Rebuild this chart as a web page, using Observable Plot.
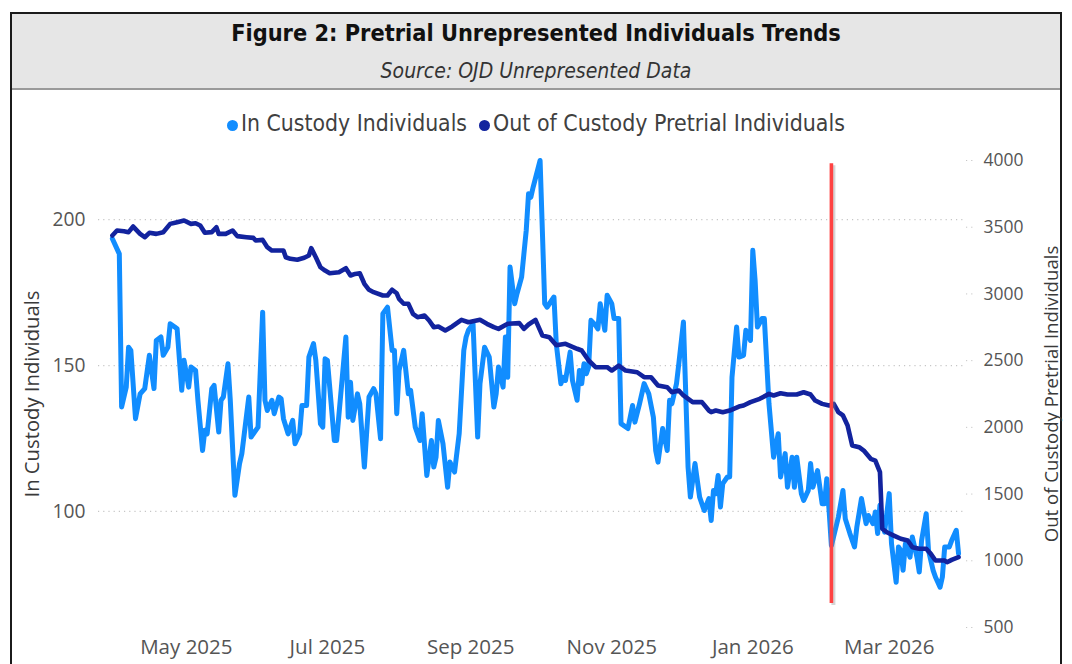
<!DOCTYPE html>
<html>
<head>
<meta charset="utf-8">
<script src="https://cdn.jsdelivr.net/npm/d3@7"></script>
<script src="https://cdn.jsdelivr.net/npm/@observablehq/plot@0.6"></script>
<style>
html, body { margin: 0; padding: 0; background: #fff; width: 1072px; height: 664px; overflow: hidden; }
#frame { position: absolute; left: 10px; top: 12px; width: 1052px; height: 720px; box-sizing: border-box; border: 2px solid #1b1b1b; }
#header { position: absolute; left: 12px; top: 14px; width: 1048px; height: 74px; background: #e6e6e6; border-bottom: 2px solid #9a9a9a; }
.t { position: absolute; left: 0; width: 1072px; text-align: center; white-space: nowrap; }
.cond { font-family: "DejaVu Sans Condensed", "DejaVu Sans", sans-serif; font-stretch: condensed; }
#title { top: 19px; line-height: 28px; font-weight: bold; color: #111; }
#subtitle { top: 59px; line-height: 24px; font-style: italic; color: #333; }
#legend { top: 111px; line-height: 24px; color: #404040; }
.dot { display: inline-block; width: 11px; height: 11px; border-radius: 50%; vertical-align: middle; position: relative; top: -1px; }
#chart { position: absolute; left: 0; top: 140px; }
</style>
</head>
<body>
<div id="frame"></div>
<div id="header"></div>
<div id="title" class="t cond"><span id="titleText">Figure 2: Pretrial Unrepresented Individuals Trends</span></div>
<div id="subtitle" class="t cond"><span id="subText">Source: OJD Unrepresented Data</span></div>
<div id="legend" class="t cond"><span class="dot" style="background:#118DFF"></span><span id="leg1" style="margin-left:3px">In Custody Individuals</span><span class="dot" style="background:#12239E;margin-left:12px"></span><span id="leg2" style="margin-left:3px">Out of Custody Pretrial Individuals</span></div>
<div id="chart"></div>
<script>
// ---------- data ----------
const inDates = [
"2025-03-30","2025-04-02","2025-04-03","2025-04-05","2025-04-06","2025-04-07","2025-04-09","2025-04-11","2025-04-13","2025-04-15",
"2025-04-17","2025-04-18","2025-04-20","2025-04-21","2025-04-23","2025-04-24","2025-04-26","2025-04-27","2025-04-29","2025-04-30",
"2025-05-02","2025-05-03","2025-05-05","2025-05-06","2025-05-08","2025-05-09","2025-05-10","2025-05-12","2025-05-13","2025-05-15",
"2025-05-16","2025-05-17","2025-05-19","2025-05-20","2025-05-22","2025-05-24","2025-05-25","2025-05-28","2025-05-29","2025-06-01",
"2025-06-03","2025-06-04","2025-06-05","2025-06-07","2025-06-08","2025-06-10","2025-06-11","2025-06-12","2025-06-14","2025-06-16",
"2025-06-17","2025-06-19","2025-06-20","2025-06-22","2025-06-23","2025-06-25","2025-06-26","2025-06-28","2025-06-29","2025-06-30",
"2025-07-01","2025-07-04","2025-07-05","2025-07-09","2025-07-10","2025-07-11","2025-07-12","2025-07-14","2025-07-15","2025-07-17",
"2025-07-19","2025-07-21","2025-07-22","2025-07-24","2025-07-25","2025-07-27","2025-07-29","2025-07-30","2025-07-31","2025-08-01",
"2025-08-03","2025-08-05","2025-08-06","2025-08-08","2025-08-10","2025-08-11","2025-08-13","2025-08-15","2025-08-16","2025-08-17",
"2025-08-18","2025-08-20","2025-08-22","2025-08-23","2025-08-25","2025-08-27","2025-08-29","2025-08-30","2025-08-31","2025-09-02",
"2025-09-04","2025-09-05","2025-09-07","2025-09-09","2025-09-11","2025-09-12","2025-09-13","2025-09-15","2025-09-16","2025-09-17",
"2025-09-18","2025-09-20","2025-09-21","2025-09-23","2025-09-25","2025-09-26","2025-09-27","2025-09-28","2025-10-01","2025-10-03",
"2025-10-04","2025-10-07","2025-10-08","2025-10-10","2025-10-11","2025-10-12","2025-10-14","2025-10-15","2025-10-17","2025-10-18",
"2025-10-19","2025-10-20","2025-10-21","2025-10-22","2025-10-23","2025-10-25","2025-10-26","2025-10-27","2025-10-29","2025-10-30",
"2025-11-01","2025-11-02","2025-11-04","2025-11-05","2025-11-08","2025-11-10","2025-11-11","2025-11-13","2025-11-15","2025-11-17",
"2025-11-19","2025-11-20","2025-11-21","2025-11-23","2025-11-25","2025-11-26","2025-11-27","2025-11-29","2025-11-30","2025-12-02",
"2025-12-03","2025-12-04","2025-12-05","2025-12-07","2025-12-09","2025-12-11","2025-12-13","2025-12-14","2025-12-15","2025-12-16",
"2025-12-17","2025-12-18","2025-12-19","2025-12-21","2025-12-22","2025-12-23","2025-12-25","2025-12-26","2025-12-28","2025-12-29",
"2025-12-31","2026-01-01","2026-01-02","2026-01-03","2026-01-05","2026-01-06","2026-01-08","2026-01-09","2026-01-10","2026-01-12",
"2026-01-13","2026-01-15","2026-01-16","2026-01-18","2026-01-19","2026-01-20","2026-01-22","2026-01-23","2026-01-25","2026-01-26",
"2026-01-27","2026-01-29","2026-01-31","2026-02-01","2026-02-02","2026-02-03","2026-02-04","2026-02-07","2026-02-09","2026-02-10",
"2026-02-12","2026-02-14","2026-02-15","2026-02-17","2026-02-19","2026-02-20","2026-02-22","2026-02-23","2026-02-24","2026-02-25",
"2026-02-26","2026-02-27","2026-03-01","2026-03-02","2026-03-04","2026-03-05","2026-03-06","2026-03-07","2026-03-08","2026-03-10",
"2026-03-11","2026-03-13","2026-03-14","2026-03-15","2026-03-17","2026-03-18","2026-03-20","2026-03-21","2026-03-23","2026-03-24",
"2026-03-25","2026-03-27","2026-03-28","2026-03-30","2026-03-31"
];
const inValues = [
193.5,188.3,135.8,142.6,156.3,155.2,131.8,140.3,142.1,153.5,
142.1,158.6,159.8,153.5,156.3,164.3,163.2,162.6,141.5,151.8,
142.6,149.5,148.3,138.1,120.9,127.8,126.6,142.1,143.2,127.2,
138.1,139.2,150.6,138.1,105.5,116.4,119.8,139.2,125.5,128.9,
168.3,138.1,134.6,138.1,133.5,139.2,138.6,131.8,126.6,131.2,
123.2,126.6,136.3,136.3,152.9,157.5,151.8,130.0,128.9,152.3,
151.8,124.3,124.3,159.8,132.3,144.3,131.2,140.3,136.9,115.2,
139.2,142.1,140.3,124.9,167.8,170.0,155.2,155.2,133.5,148.3,
155.2,140.3,141.5,128.9,124.3,133.5,112.3,124.3,115.2,118.6,
131.2,123.2,108.3,116.9,113.5,126.6,155.2,159.8,162.1,164.3,
125.5,143.8,156.3,152.9,135.8,140.3,149.5,142.6,159.8,146.0,
183.8,171.2,174.6,180.3,196.3,208.9,207.7,211.2,220.3,171.2,
170.0,173.5,157.5,143.8,146.0,144.9,154.6,144.9,138.1,148.3,
143.8,150.6,147.2,149.5,165.5,163.8,162.6,171.2,162.1,174.1,
171.2,166.1,166.1,130.1,128.4,136.3,130.6,136.9,143.8,140.3,
132.3,120.9,116.9,128.4,120.9,138.1,136.9,143.8,150.6,164.9,
140.3,115.2,104.9,116.4,104.9,100.3,104.4,96.9,107.2,106.1,
112.3,101.5,109.5,111.8,111.8,146.0,163.2,152.9,153.5,162.1,
158.6,189.5,179.2,163.2,166.1,166.1,136.9,127.8,118.6,126.6,
111.8,119.8,108.3,118.6,108.3,118.6,106.1,103.8,107.2,116.4,
108.3,114.0,102.6,102.6,111.2,100.3,88.3,98.0,107.2,97.5,
92.4,87.8,94.6,104.4,95.8,98.6,95.8,99.8,92.4,102.1,
97.0,92.9,106.1,88.9,75.7,87.8,86.6,79.8,88.9,84.3,
91.2,84.3,79.2,90.0,99.2,86.6,79.8,77.5,74.0,77.5,
87.8,87.8,90.0,93.5,85.5
];
const outDates = [
"2025-03-30","2025-04-01","2025-04-04","2025-04-06","2025-04-08","2025-04-11","2025-04-13","2025-04-15","2025-04-18","2025-04-21",
"2025-04-24","2025-04-27","2025-04-30","2025-05-03","2025-05-05","2025-05-07","2025-05-09","2025-05-12","2025-05-14","2025-05-15",
"2025-05-18","2025-05-21","2025-05-23","2025-05-27","2025-05-30","2025-05-31","2025-06-03","2025-06-05","2025-06-07","2025-06-12",
"2025-06-13","2025-06-15","2025-06-18","2025-06-21","2025-06-23","2025-06-24","2025-06-26","2025-06-28","2025-06-30","2025-07-02",
"2025-07-06","2025-07-09","2025-07-11","2025-07-13","2025-07-15","2025-07-17","2025-07-19","2025-07-21","2025-07-25","2025-07-27",
"2025-07-29","2025-07-31","2025-08-01","2025-08-03","2025-08-05","2025-08-07","2025-08-09","2025-08-12","2025-08-14","2025-08-16",
"2025-08-18","2025-08-21","2025-08-24","2025-08-28","2025-08-31","2025-09-05","2025-09-08","2025-09-11","2025-09-13","2025-09-17",
"2025-09-22","2025-09-24","2025-09-26","2025-09-29","2025-10-02","2025-10-05","2025-10-08","2025-10-12","2025-10-17","2025-10-19",
"2025-10-22","2025-10-25","2025-10-30","2025-11-01","2025-11-04","2025-11-07","2025-11-12","2025-11-15","2025-11-18","2025-11-21",
"2025-11-25","2025-11-27","2025-11-30","2025-12-02","2025-12-06","2025-12-10","2025-12-13","2025-12-14","2025-12-16","2025-12-19",
"2025-12-22","2025-12-26","2025-12-28","2025-12-31","2026-01-04","2026-01-08","2026-01-10","2026-01-13","2026-01-16","2026-01-20",
"2026-01-23","2026-01-26","2026-01-28","2026-01-31","2026-02-03","2026-02-05","2026-02-07","2026-02-09","2026-02-11","2026-02-13",
"2026-02-16","2026-02-18","2026-02-21","2026-02-23","2026-02-25","2026-02-26","2026-02-28","2026-03-03","2026-03-06","2026-03-09",
"2026-03-11","2026-03-14","2026-03-17","2026-03-19","2026-03-21","2026-03-25","2026-03-26","2026-03-28","2026-03-31"
];
const outValues = [
3438,3475,3470,3463,3505,3450,3425,3458,3450,3463,
3525,3538,3550,3525,3530,3513,3458,3463,3500,3450,
3450,3475,3433,3425,3420,3400,3405,3350,3325,3325,
3275,3263,3256,3271,3288,3343,3275,3200,3175,3155,
3163,3193,3138,3150,3155,3076,3031,3013,2988,2988,
3031,3005,2963,2926,2926,2851,2826,2838,2801,2751,
2756,2726,2756,2806,2788,2806,2776,2751,2738,2776,
2781,2738,2771,2806,2688,2676,2615,2626,2589,2576,
2501,2451,2451,2426,2463,2426,2413,2376,2376,2314,
2301,2263,2276,2239,2189,2189,2126,2114,2126,2114,
2126,2156,2164,2189,2214,2251,2239,2256,2246,2246,
2263,2246,2201,2176,2164,2176,2114,2089,2014,1864,
1851,1826,1764,1751,1664,1240,1214,1189,1165,1152,
1102,1090,1090,1052,1002,1002,989,1007,1027
];
const leftTicks = [100, 150, 200];
const rightTicks = [500, 1000, 1500, 2000, 2500, 3000, 3500, 4000];
const xTickDates = ["2025-05-01","2025-07-01","2025-09-01","2025-11-01","2026-01-01","2026-03-01"];
const markerDate = "2026-02-04";
const markerSpan = [680, 3975]; // in right-axis units
const leftDomain = [60.2, 220.3];
const rightDomain = [500, 4000];
const xDomain = ["2025-03-24", "2026-04-03"];
const axisTitles = ["In Custody Individuals", "Out of Custody Pretrial Individuals"];

// ---------- helpers ----------
const toLeft = v => leftDomain[0] + (v - rightDomain[0]) * (leftDomain[1] - leftDomain[0]) / (rightDomain[1] - rightDomain[0]);
const toRight = v => rightDomain[0] + (v - leftDomain[0]) * (rightDomain[1] - rightDomain[0]) / (leftDomain[1] - leftDomain[0]);
const ctx = document.createElement("canvas").getContext("2d");
function fitSize(text, family, target, weight = "normal") {
  ctx.font = `${weight} 100px ${family}`;
  return 100 * target / ctx.measureText(text).width;
}
function fitSpan(id, base, target) {
  const el = document.getElementById(id);
  el.style.fontSize = base + "px";
  const w = el.getBoundingClientRect().width;
  el.style.fontSize = (base * target / w) + "px";
}
fitSpan("titleText", 20, 610);
fitSpan("subText", 17, 311);
fitSpan("leg1", 19, 226);
fitSpan("leg2", 19, 352);

const inData = inDates.map((d, i) => ({date: new Date(d), value: inValues[i]}));
const outData = outDates.map((d, i) => ({date: new Date(d), value: outValues[i]}));

const FF = "'Open Sans', sans-serif";
const xFont = fitSize("May 2025", FF, 92.5);
const lFont = fitSize("200", FF, 33);
const rFont = fitSize("4000", FF, 40);
const lTitleFont = fitSize(axisTitles[0], FF, 207);
const rTitleFont = fitSize(axisTitles[1], FF, 297);

const chart = Plot.plot({
  width: 1072,
  height: 524,
  marginLeft: 98,
  marginRight: 107,
  marginTop: 20,
  marginBottom: 37,
  style: {fontFamily: FF, background: "transparent", overflow: "visible"},
  x: {type: "utc", domain: xDomain.map(d => new Date(d))},
  y: {domain: leftDomain},
  marks: [
    Plot.ruleY(leftTicks, {stroke: "#c6c6c6", strokeWidth: 1.2, strokeDasharray: "1.2,4"}),
    Plot.axisX(xTickDates.map(d => new Date(d)), {tickSize: 0, tickPadding: 12, fontSize: xFont, fill: "#555", tickFormat: d3.utcFormat("%b %Y"), label: null}),
    Plot.axisY(leftTicks, {anchor: "left", tickSize: 0, tickPadding: 13, fontSize: lFont, fill: "#555", label: null}),
    Plot.axisY(rightTicks.map(toLeft), {anchor: "right", tickSize: 8, tickPadding: 10, fontSize: rFont, fill: "#555", stroke: "#c6c6c6", strokeDasharray: "1.2,4", tickFormat: d => String(Math.round(toRight(d))), label: null}),
    Plot.line(inData, {x: "date", y: "value", stroke: "#118DFF", strokeWidth: 5, strokeLinejoin: "round", strokeLinecap: "round"}),
    Plot.line(outData, {x: "date", y: d => toLeft(d.value), stroke: "#12239E", strokeWidth: 4.6, strokeLinejoin: "round", strokeLinecap: "round"}),
    Plot.ruleX([new Date(markerDate)], {y1: toLeft(markerSpan[0]), y2: toLeft(markerSpan[1]), stroke: "#888", strokeOpacity: 0.35, strokeWidth: 4, dx: 2, dy: 2}),
    Plot.ruleX([new Date(markerDate)], {y1: toLeft(markerSpan[0]), y2: toLeft(markerSpan[1]), stroke: "#FF4242", strokeWidth: 3.6}),
    Plot.text([axisTitles[0]], {frameAnchor: "left", dx: -66, rotate: -90, textAnchor: "middle", lineAnchor: "middle", fontSize: lTitleFont, fill: "#3a3a3a"}),
    Plot.text([axisTitles[1]], {frameAnchor: "right", dx: 87, rotate: -90, textAnchor: "middle", lineAnchor: "middle", fontSize: rTitleFont, fill: "#3a3a3a"})
  ]
});
document.getElementById("chart").appendChild(chart);
</script>
</body>
</html>
